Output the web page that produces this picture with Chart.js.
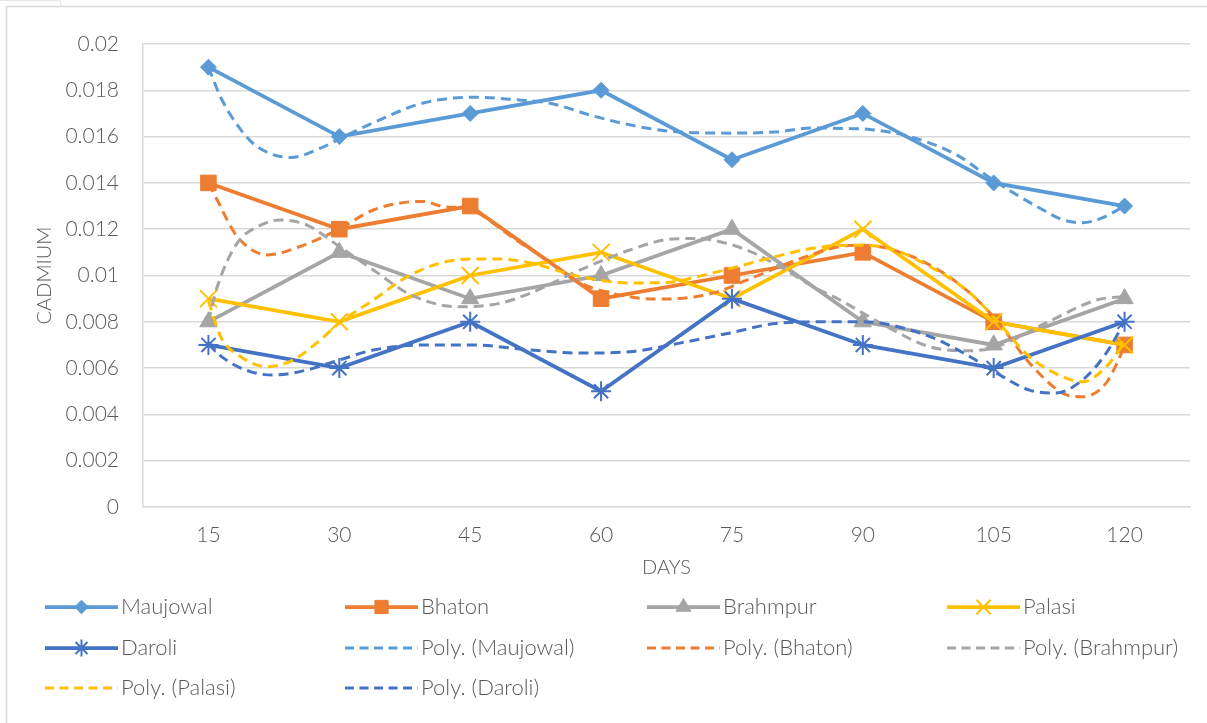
<!DOCTYPE html>
<html>
<head>
<meta charset="utf-8">
<script src="https://cdn.jsdelivr.net/npm/chart.js@4.4.1/dist/chart.umd.min.js"></script>
<style>
  html, body { margin: 0; padding: 0; background: #ffffff; }
  #wrap { width: 1207px; height: 723px; position: relative; }
  canvas { display: block; }
</style>
</head>
<body>
<div id="wrap"><canvas id="chart" width="1207" height="723"></canvas></div>
<script>
// Sampling days (x categories)
const days = [15, 30, 45, 60, 75, 90, 105, 120];

// Cadmium readings per site
const maujowal = [0.019, 0.016, 0.017, 0.018, 0.015, 0.017, 0.014, 0.013];
const bhaton   = [0.014, 0.012, 0.013, 0.009, 0.010, 0.011, 0.008, 0.007];
const brahmpur = [0.008, 0.011, 0.009, 0.010, 0.012, 0.008, 0.007, 0.009];
const palasi   = [0.009, 0.008, 0.010, 0.011, 0.009, 0.012, 0.008, 0.007];
const daroli   = [0.007, 0.006, 0.008, 0.005, 0.009, 0.007, 0.006, 0.008];

// Polynomial trend curves, sampled as [day, value]
const maujowalTrend = [[15,0.0190],[16.4,0.0177],[18.7,0.0163],[20.6,0.01556],[24.4,0.0151],[28.2,0.01556],[30,0.0159],[33.9,0.0166],[39.6,0.01745],[45.3,0.0177],[50,0.0176],[54,0.01745],[59.5,0.01685],[65,0.01638],[69,0.0162],[74.8,0.01615],[80,0.0162],[84.3,0.01637],[88,0.01635],[91,0.0163],[95.4,0.0160],[100.8,0.0152],[104.9,0.01413],[110,0.01297],[113,0.0124],[115.2,0.01228],[117.5,0.0125],[120,0.0130]];
const bhatonTrend = [[15,0.0140],[16,0.01326],[18.3,0.01168],[21.8,0.01089],[25.5,0.01125],[29.8,0.01197],[33.9,0.01283],[37.8,0.01317],[39.6,0.0132],[41.6,0.0130],[45.3,0.0128],[50,0.0116],[53.8,0.01067],[57.6,0.00968],[63.3,0.00908],[67.1,0.00898],[72.8,0.00924],[76.7,0.0098],[82.4,0.01067],[87.4,0.01125],[90,0.01131],[95.7,0.01081],[101.4,0.00952],[105.3,0.00808],[109.1,0.00622],[112.9,0.00492],[115.2,0.00476],[117.9,0.00536],[120,0.00692]];
const brahmpurTrend = [[15,0.0080],[16,0.0095],[18.3,0.0114],[20.6,0.0121],[23.2,0.0124],[26.3,0.01218],[30,0.01125],[33.9,0.01024],[37.8,0.00924],[41.6,0.00873],[44,0.00865],[48.4,0.0088],[51.9,0.00924],[57.6,0.01024],[63.3,0.0111],[68.2,0.01158],[71,0.0116],[72.8,0.01153],[76.7,0.0111],[80.5,0.01038],[84.3,0.00952],[87.4,0.00894],[92,0.00795],[97.7,0.00692],[102.3,0.00675],[105.3,0.00692],[111,0.00795],[116.8,0.00894],[120,0.0091]];
const palasiTrend = [[15,0.0089],[16.4,0.00736],[18.7,0.00649],[21.8,0.00606],[24.7,0.00635],[27.8,0.00721],[30,0.00795],[33.9,0.00894],[37.8,0.00995],[41.6,0.01054],[45.3,0.01071],[48.4,0.01071],[51.9,0.01054],[57.6,0.00995],[63.3,0.00968],[67.1,0.00969],[72.8,0.01011],[78.5,0.01067],[84.3,0.01118],[88.2,0.01131],[92,0.01125],[97.7,0.01038],[102.3,0.00924],[105.3,0.00808],[109.1,0.00649],[112.9,0.00563],[115.2,0.00541],[117.9,0.00606],[120,0.0071]];
const daroliTrend = [[15,0.00708],[16.7,0.00644],[19.8,0.00585],[22.4,0.0057],[26.3,0.00592],[30,0.00635],[33.9,0.00678],[39.6,0.0070],[45.3,0.0070],[51.9,0.00678],[57.6,0.00665],[63.3,0.00671],[69,0.00708],[74.8,0.00752],[80.5,0.00795],[86.2,0.0080],[90,0.0080],[92,0.00795],[97.7,0.00736],[102.3,0.00649],[105.3,0.00579],[109.1,0.00505],[112,0.00492],[115.2,0.00549],[117.9,0.00665],[120,0.0080]];

const FONT = 'Lato, "Open Sans", sans-serif';
const WEIGHT = '300';
const TEXT = '#595959';
const GRID = '#d9d9d9';

function pts(values) { return days.map((d, i) => ({ x: d, y: values[i] })); }
function curve(pairs) { return pairs.map(p => ({ x: p[0], y: p[1] })); }

function series(label, values, color, style, radius, order) {
  const stroked = style === 'crossRot' || style === 'star';
  return {
    label, data: pts(values), order,
    borderColor: color, backgroundColor: color,
    borderWidth: 3.75, tension: 0,
    pointStyle: style, pointRadius: radius, pointHoverRadius: radius,
    pointBackgroundColor: color, pointBorderColor: color,
    pointBorderWidth: stroked ? 2 : 1,
    trend: false
  };
}
function trend(label, pairs, color, order) {
  return {
    label, data: curve(pairs), order,
    borderColor: color, backgroundColor: color,
    borderWidth: 3, borderDash: [10, 6],
    cubicInterpolationMode: 'monotone',
    pointRadius: 0, pointHoverRadius: 0,
    trend: true
  };
}

const datasets = [
  series('Maujowal', maujowal, '#5B9BD5', 'rectRot', 8, 10),
  series('Bhaton', bhaton, '#ED7D31', 'rect', 11, 9),
  series('Brahmpur', brahmpur, '#A5A5A5', 'triangle', 10, 8),
  series('Palasi', palasi, '#FFC000', 'crossRot', 12, 7),
  series('Daroli', daroli, '#4472C4', 'star', 10, 6),
  trend('Poly. (Maujowal)', maujowalTrend, '#5B9BD5', 5),
  trend('Poly. (Bhaton)', bhatonTrend, '#ED7D31', 4),
  trend('Poly. (Brahmpur)', brahmpurTrend, '#A5A5A5', 3),
  trend('Poly. (Palasi)', palasiTrend, '#FFC000', 2),
  trend('Poly. (Daroli)', daroliTrend, '#4472C4', 1)
];

// Frame around the chart
const framePlugin = {
  id: 'frame',
  beforeDraw(chart) {
    const ctx = chart.ctx;
    ctx.save();
    ctx.fillStyle = '#ffffff';
    ctx.fillRect(0, 0, chart.width, chart.height);
    ctx.strokeStyle = '#d9d9d9';
    ctx.lineWidth = 1.5;
    ctx.beginPath();
    ctx.moveTo(6.5, chart.height);
    ctx.lineTo(6.5, 6.5);
    ctx.lineTo(chart.width, 6.5);
    ctx.stroke();
    ctx.strokeStyle = '#e6e6e6';
    ctx.lineWidth = 1;
    ctx.beginPath();
    ctx.moveTo(0, 0.5);
    ctx.lineTo(60.5, 0.5);
    ctx.lineTo(60.5, 5);
    ctx.stroke();
    ctx.restore();
  }
};

// Four-column legend below the plot
const gridLegend = {
  id: 'gridLegend',
  afterDraw(chart) {
    const ctx = chart.ctx;
    const cols = [45, 345, 647, 947];
    const rows = [607, 648, 688];
    const lineLen = 73;
    ctx.save();
    chart.data.datasets.forEach((ds, i) => {
      const x = cols[i % 4];
      const y = rows[Math.floor(i / 4)];
      ctx.strokeStyle = ds.borderColor;
      ctx.fillStyle = ds.borderColor;
      ctx.lineWidth = ds.borderWidth;
      ctx.setLineDash(ds.trend ? [9, 5.5] : []);
      ctx.beginPath();
      ctx.moveTo(x, y);
      ctx.lineTo(x + lineLen, y);
      ctx.stroke();
      ctx.setLineDash([]);
      if (!ds.trend) {
        ctx.lineWidth = ds.pointBorderWidth;
        Chart.helpers.drawPoint(ctx, {
          pointStyle: ds.pointStyle,
          radius: ds.pointRadius * 0.85,
          borderWidth: ds.pointBorderWidth,
          rotation: 0
        }, x + lineLen / 2, y);
      }
      ctx.fillStyle = TEXT;
      ctx.font = WEIGHT + ' 22px ' + FONT;
      ctx.textAlign = 'left';
      ctx.textBaseline = 'middle';
      ctx.fillText(ds.label, x + lineLen + 3, y);
    });
    ctx.restore();
  }
};

new Chart(document.getElementById('chart'), {
  type: 'line',
  data: { datasets },
  plugins: [framePlugin, gridLegend],
  options: {
    responsive: false,
    animation: false,
    events: [],
    layout: { autoPadding: false, padding: { left: 6, top: 44, right: 17, bottom: 136 } },
    plugins: { legend: { display: false }, tooltip: { enabled: false } },
    scales: {
      x: {
        type: 'linear',
        min: 7.5, max: 127.5,
        afterBuildTicks(scale) { scale.ticks = days.map(v => ({ value: v })); },
        afterFit(scale) { scale.height = 80; },
        grid: { display: false, drawTicks: false },
        border: { display: true, color: GRID, width: 1.5 },
        ticks: { color: TEXT, font: { family: FONT, size: 21, weight: WEIGHT }, padding: 16, autoSkip: false, maxRotation: 0 },
        title: { display: true, text: 'DAYS', color: TEXT, font: { family: FONT, size: 20, weight: WEIGHT }, padding: { top: 0, bottom: 7 } }
      },
      y: {
        min: 0, max: 0.02,
        afterFit(scale) { scale.width = 137; },
        grid: { color: GRID, lineWidth: 1.5, drawTicks: false },
        border: { display: true, color: GRID, width: 1.5 },
        ticks: {
          stepSize: 0.002, color: TEXT, font: { family: FONT, size: 21, weight: WEIGHT }, padding: 24,
          callback: v => String(Math.round(v * 1000) / 1000)
        },
        title: { display: true, text: 'CADMIUM', color: TEXT, font: { family: FONT, size: 20, weight: WEIGHT }, padding: { top: 27, bottom: 0 } }
      }
    }
  }
});
</script>
</body>
</html>
